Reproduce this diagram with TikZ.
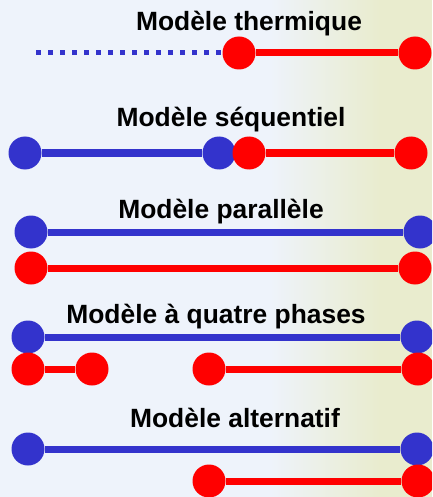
\documentclass[tikz,border=0pt]{standalone}
\usepackage{fontspec}
\setmainfont{Liberation Sans}
\usetikzlibrary{positioning}
\definecolor{phaseblue}{HTML}{3333CC}
\definecolor{phasered}{HTML}{FF0000}
\definecolor{bgblue}{HTML}{EEF3FB}
\definecolor{bgtree}{HTML}{E9ECCE}

\begin{document}
\begin{tikzpicture}[x=1pt, y=-1pt,
  titre/.style={font=\bfseries\fontsize{26.4}{30}\selectfont, anchor=base, inner sep=0pt},
  bdot/.style={circle, fill=phaseblue, inner sep=0pt, minimum size=33pt},
  rdot/.style={circle, fill=phasered, inner sep=0pt, minimum size=33pt},
  bline/.style={draw=phaseblue, line width=7pt},
  rline/.style={draw=phasered, line width=7pt}]
  \useasboundingbox (0,0) rectangle (432,497);
  \clip (0,0) rectangle (432,497);
  % Background
  \fill[bgblue] (0,0) rectangle (432,497);
  \shade[left color=bgblue, right color=bgtree] (270,0) rectangle (380,497);
  \fill[bgtree] (380,0) rectangle (432,497);
  % Modele thermique
  \node[titre] (t1) at (249,31) {Modèle thermique};
  \coordinate (b1a) at (36,53);
  \node[rdot] (r1a) at (239,53) {};
  \node[rdot] (r1b) at (415,53) {};
  \draw[draw=phaseblue, line width=5pt, dash pattern=on 5pt off 7pt] (b1a) -- (r1a);
  \draw[rline] (r1a) -- (r1b);
  % Modele sequentiel
  \node[titre] (t2) at (231,127) {Modèle séquentiel};
  \node[bdot] (b2a) at (25,153) {};
  \node[bdot] (b2b) at (219,153) {};
  \node[rdot] (r2a) at (249,153) {};
  \node[rdot] (r2b) at (411,153) {};
  \draw[bline] (b2a) -- (b2b);
  \draw[rline] (r2a) -- (r2b);
  % Modele parallele
  \node[titre] (t3) at (221,218) {Modèle parallèle};
  \node[bdot] (b3a) at (31,232) {};
  \node[bdot] (b3b) at (420,232) {};
  \node[rdot] (r3a) at (31,268) {};
  \node[rdot] (r3b) at (415,268) {};
  \draw[bline] (b3a) -- (b3b);
  \draw[rline] (r3a) -- (r3b);
  % Modele a quatre phases
  \node[titre] (t4) at (216,323) {Modèle à quatre phases};
  \node[bdot] (b4a) at (28,337) {};
  \node[bdot] (b4b) at (417,337) {};
  \node[rdot] (r4a) at (28,369) {};
  \node[rdot] (r4b) at (92,369) {};
  \node[rdot] (r4c) at (209,369) {};
  \node[rdot] (r4d) at (418,369) {};
  \draw[bline] (b4a) -- (b4b);
  \draw[rline] (r4a) -- (r4b);
  \draw[rline] (r4c) -- (r4d);
  % Modele alternatif
  \node[titre] (t5) at (235,427) {Modèle alternatif};
  \node[bdot] (b5a) at (28,449) {};
  \node[bdot] (b5b) at (417,449) {};
  \node[rdot] (r5a) at (209,481) {};
  \node[rdot] (r5b) at (418,481) {};
  \draw[bline] (b5a) -- (b5b);
  \draw[rline] (r5a) -- (r5b);
\end{tikzpicture}
\end{document}
